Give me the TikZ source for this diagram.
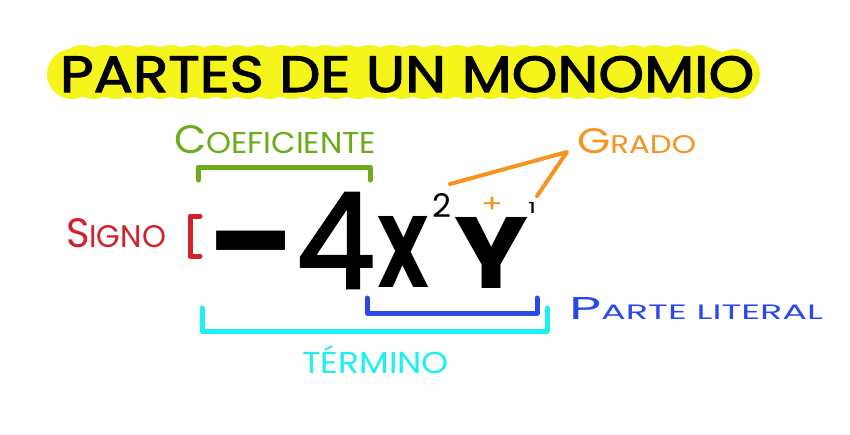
\documentclass[tikz,border=0pt]{standalone}
\usepackage{fontspec}
\setmainfont{Poppins}
\newfontfamily\titlefont[FakeBold=2]{Poppins}
\usepackage{graphicx}
\definecolor{hilite}{HTML}{F5F51C}
\definecolor{cgreen}{HTML}{6AAC1C}
\definecolor{cred}{HTML}{D4202A}
\definecolor{corange}{HTML}{F7931E}
\definecolor{cblue}{HTML}{2B48E8}
\definecolor{ccyan}{HTML}{1CF0F0}
\newcommand\fitbox[3]{\resizebox{#1pt}{#2pt}{#3}}
\newcommand\smc[3]{{\fontsize{10}{12}\selectfont #1}{\fontsize{#3}{12}\selectfont #2}}
\begin{document}
\begin{tikzpicture}[x=1pt,y=-1pt,
  lbl/.style={inner sep=0pt, outer sep=0pt, anchor=base west},
  brk/.style={line width=5pt, line cap=round, line join=round},
  lead/.style={line width=4pt, line cap=round, line join=round, draw=corange}]
\useasboundingbox[fill=white] (0,0) rectangle (850,434);
% yellow highlight
\fill[hilite] (72,52) rectangle (735,97);
\foreach \cx in {72,94,...,720,735}{\fill[hilite] (\cx,74) circle (25);}
\foreach \cx in {83,105,...,720}{\fill[hilite] (\cx,71) circle (26);}
% title
\node[lbl] (title) at (60,92) {\fitbox{694}{36}{\titlefont PARTES DE UN MONOMIO}};
% labels
\node[lbl, text=cgreen] (coef) at (174,153) {\fitbox{202}{28}{\smc{C}{OEFICIENTE}{7.6}}};
\node[lbl, text=cred] (signo) at (66,247) {\fitbox{100}{29}{\smc{S}{IGNO}{7.6}}};
\node[lbl, text=corange] (grado) at (577,153) {\fitbox{119}{25}{\smc{G}{RADO}{7.2}}};
\node[lbl, text=cblue] (parte) at (569,319) {\fitbox{254}{22}{\smc{P}{ARTE LITERAL}{6.6}}};
\node[lbl, text=ccyan] (termino) at (302,373) {\fitbox{147}{28}{TÉRMINO}};
% monomial
\node[lbl] (minus) at (208,288) {\scalebox{1.15}[1]{\fontsize{136}{136}\selectfont\bfseries −}};
\node[lbl] (four) at (296,288) {\fitbox{79}{95}{\titlefont 4}};
\node[lbl] (x) at (376,287) {\fitbox{54}{71}{\bfseries X}};
\node[lbl] (two) at (432,217) {\fitbox{19}{24}{2}};
\node[lbl] (y) at (454,288) {\fitbox{74}{71}{\bfseries Y}};
\node[lbl, text=corange] (plus) at (481,212) {\fitbox{22}{15}{+}};
\node[lbl] (one) at (528,213) {\fitbox{8}{11}{1}};
% brackets
\draw[brk, cgreen] (198,180) -- (198,167) -- (370,167) -- (370,180);
\draw[brk, cred] (200,216) -- (190,216) -- (190,256) -- (200,256);
\draw[brk, cblue] (367,298) -- (367,313) -- (537,313) -- (537,298);
\draw[brk, ccyan] (202,308) -- (202,331) -- (547,331) -- (547,308);
% grado leaders
\coordinate (gx) at (450,184);
\coordinate (gy) at (537,196);
\coordinate (gp) at (567,152);
\draw[lead] (gx) -- (gp) -- (gy);
\end{tikzpicture}
\end{document}
